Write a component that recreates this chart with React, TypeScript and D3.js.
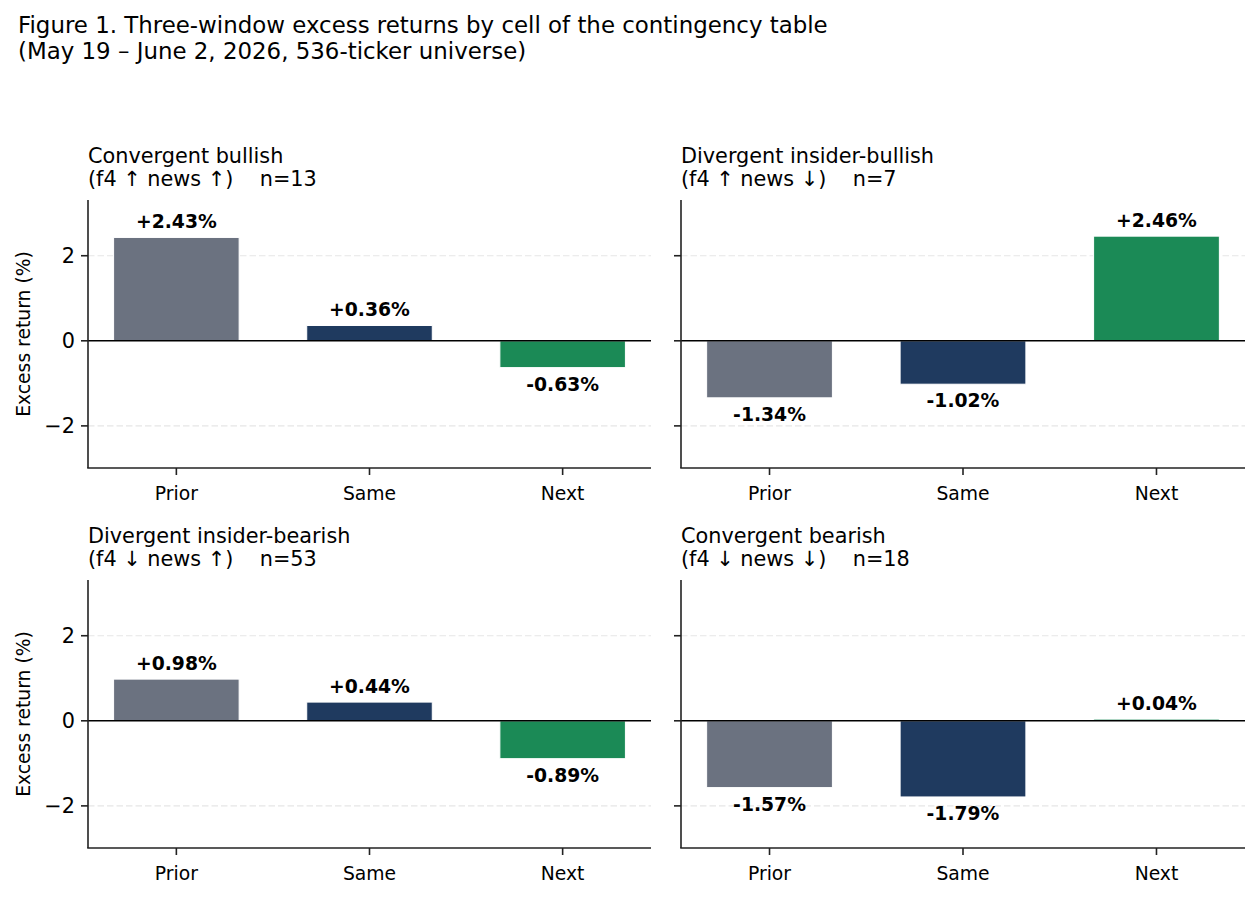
import React from 'react';
import * as d3 from 'd3';

// Data
const windows = ['Prior', 'Same', 'Next'];
const panelTitles = ['Convergent bullish', 'Divergent insider-bullish', 'Divergent insider-bearish', 'Convergent bearish'];
const panelSubtitles = ['(f4 \u2191 news \u2191)    n=13', '(f4 \u2191 news \u2193)    n=7', '(f4 \u2193 news \u2191)    n=53', '(f4 \u2193 news \u2193)    n=18'];
const convergentBullish = [2.43, 0.36, -0.63];
const divergentInsiderBullish = [-1.34, -1.02, 2.46];
const divergentInsiderBearish = [0.98, 0.44, -0.89];
const convergentBearish = [-1.57, -1.79, 0.04];
const yTicks = [-2, 0, 2];
const barColors = ['#6b7280', '#1f3a5f', '#1b8a56'];

const panelValues = [convergentBullish, divergentInsiderBullish, divergentInsiderBearish, convergentBearish];

const W = 1260;
const H = 898;
const FONT = '"DejaVu Sans", sans-serif';
const colX = [[88, 651], [681, 1245]];
const rowY = [[200, 468], [580, 848]];

const fmt = (v: number) => (v >= 0 ? '+' : '-') + Math.abs(v).toFixed(2) + '%';
const tickFmt = (v: number) => (v < 0 ? '\u2212' + Math.abs(v) : String(v));

const Panel: React.FC<{ idx: number }> = ({ idx }) => {
  const col = idx % 2;
  const row = Math.floor(idx / 2);
  const [x0, x1] = colX[col];
  const [y0, y1] = rowY[row];
  const values = panelValues[idx];

  const x = d3.scaleLinear().domain([-0.4575, 2.4575]).range([x0, x1]);
  const y = d3.scaleLinear().domain([-2.99, 3.31]).range([y1, y0]);
  const bw = x(0.65) - x(0);
  const axisColor = '#222';
  const lw = 1.6;

  return (
    <g>
      {/* title */}
      <text x={x0} y={y0 - 37} fontSize={20.8} fontFamily={FONT} fill="#000">{panelTitles[idx]}</text>
      <text x={x0} y={y0 - 14} fontSize={20.8} fontFamily={FONT} fill="#000" style={{ whiteSpace: 'pre' }}>{panelSubtitles[idx]}</text>

      {/* grid */}
      {yTicks.filter(t => t !== 0).map(t => (
        <line key={t} x1={x0} x2={x1} y1={y(t)} y2={y(t)} stroke="#e6e6e6" strokeWidth={1.2} strokeDasharray="6.5,3" />
      ))}

      {/* bars */}
      {values.map((v, i) => (
        <rect key={i}
          x={x(i) - bw / 2}
          y={Math.min(y(v), y(0))}
          width={bw}
          height={Math.abs(y(v) - y(0))}
          fill={barColors[i]}
          stroke="#fff"
          strokeWidth={1}
        />
      ))}

      {/* zero line */}
      <line x1={x0} x2={x1} y1={y(0)} y2={y(0)} stroke="#000" strokeWidth={1.6} />

      {/* value labels */}
      {values.map((v, i) => (
        <text key={i}
          x={x(i)}
          y={v >= 0 ? y(v + 0.25) + 1.5 : y(v - 0.25) + 12.5}
          textAnchor="middle"
          fontSize={18.75}
          fontWeight="bold"
          fontFamily={FONT}
          fill="#000"
        >{fmt(v)}</text>
      ))}

      {/* axes */}
      <line x1={x0} x2={x0} y1={y0} y2={y1} stroke={axisColor} strokeWidth={lw} />
      <line x1={x0 - lw / 2} x2={x1} y1={y1} y2={y1} stroke={axisColor} strokeWidth={lw} />
      {yTicks.map(t => (
        <g key={t}>
          <line x1={x0 - 7} x2={x0} y1={y(t)} y2={y(t)} stroke={axisColor} strokeWidth={lw} />
          {col === 0 && (
            <text x={x0 - 13} y={y(t) + 7.5} textAnchor="end" fontSize={20.8} fontFamily={FONT} fill="#000">{tickFmt(t)}</text>
          )}
        </g>
      ))}
      {windows.map((w, i) => (
        <g key={w}>
          <line x1={x(i)} x2={x(i)} y1={y1} y2={y1 + 7} stroke={axisColor} strokeWidth={lw} />
          <text x={x(i)} y={y1 + 32} textAnchor="middle" fontSize={18.75} fontFamily={FONT} fill="#000">{w}</text>
        </g>
      ))}
      {col === 0 && (
        <text
          transform={`translate(30,${(y0 + y1) / 2}) rotate(-90)`}
          textAnchor="middle"
          fontSize={18.75}
          fontFamily={FONT}
          fill="#000"
        >Excess return (%)</text>
      )}
    </g>
  );
};

export default function App() {
  return (
    <svg width={W} height={H} style={{ position: 'absolute', left: 0, top: 0, background: '#fff' }}>
      <rect width={W} height={H} fill="#fff" />
      <text x={18} y={33} fontSize={22.9} fontFamily={FONT} fill="#000">Figure 1. Three-window excess returns by cell of the contingency table</text>
      <text x={18} y={59} fontSize={22.9} fontFamily={FONT} fill="#000">(May 19 – June 2, 2026, 536-ticker universe)</text>
      {[0, 1, 2, 3].map(i => <Panel key={i} idx={i} />)}
    </svg>
  );
}
